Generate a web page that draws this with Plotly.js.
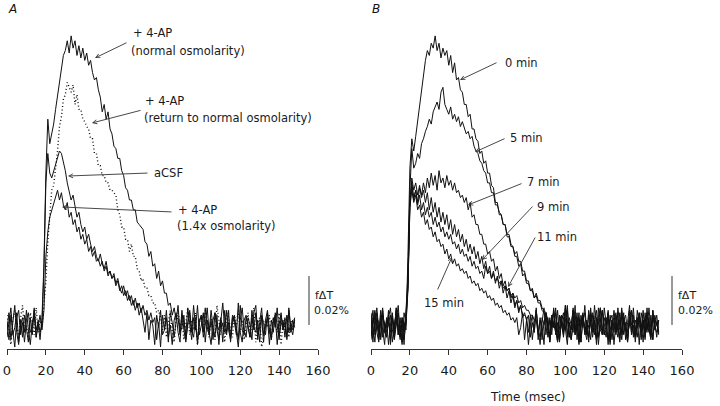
<!DOCTYPE html>
<html><head><meta charset="utf-8">
<script src="https://cdn.plot.ly/plotly-3.0.1.min.js"></script>
<style>html,body{margin:0;padding:0;background:#fff}#chart{width:720px;height:406px}</style>
</head><body><div id="chart"></div>
<script>
// Sampling interval (ms) of all traces
const dt = 1;
// fΔT values in units of 0.001 % (scale bar = 20 units = 0.02 %)
// Panel A
const aNormal = [-2,5,-6,1,8,-3,-8,2,-5,4,-1,-7,3,-4,6,-2,1,-6,3,
 25,62,84,74,78,82,88,94,100,106,110,112,116,111,118,113,116,110,114,109,113,108,111,106,108,103,100,
 101,96,93,87,90,84,87,80,78,73,72,68,68,63,61,56,55,51,51,47,47,42,41,40,39,34,33,28,30,24,25,19,22,16,18,13,13,8,9,4,7,2,
 3,-4,6,-2,-7,1,5,-3,8,-1,-6,2,4,-5,0,7,-3,-8,2,5,-2,-6,3,9,-1,-4,6,-7,1,4,-3,-9,2,7,-2,-5,3,0,-6,5,8,-4,-1,3,-7,2,6,-3,-5,1,4,-8,0,5,-2,3,-6,7,-1,-4,2];
const aReturn = [4,-3,-8,2,6,-1,-5,3,8,-2,0,-6,5,1,-4,7,-3,2,-1,
 8,18,34,46,55,57,64,71,81,85,92,94,99,97,95,98,90,94,88,88,84,83,81,80,76,76,70,70,65,65,61,61,58,58,55,55,54,53,47,45,40,40,35,35,30,33,28,28,23,22,18,19,15,15,12,12,9,9,5,6,3,
 -2,4,-5,1,6,-3,-7,2,5,-1,3,-6,0,7,-4,2,-2,5,-8,1,4,-3,6,-1,-5,3,0,-6,8,2,-4,1,-7,5,3,-2,-5,4,-1,6,-3,2,-6,0,5,-4,-2,7,-7,1,3,-9,-5,2,-1,4,-6,3,0,-3,5,-8,1,-2,4,-5,2,-1,3];
const aCSF = [-5,2,7,-4,-1,5,-7,0,3,-3,6,-2,-8,1,4,-5,2,-3,0,
 22,58,70,62,60,63,66,69,71,70,67,63,58,55,51,53,48,44,46,41,38,40,35,37,33,30,32,28,26,29,25,23,26,21,22,19,21,17,19,15,13,16,12,14,10,12,8,11,7,9,5,8,4,6,2,5,1,
 3,-6,1,-9,4,-2,6,-5,0,-8,2,5,-3,-7,4,1,-4,7,-1,-6,3,-2,8,-4,0,5,-7,2,-3,6,-1,-5,4,-8,2,0,-3,6,-2,-6,3,1,-4,9,-3,-7,2,4,-1,-5,3,-2,5,-6,1,7,-4,-1,3,-8,2,-3,5,0,-6,4,-2,1,-5,6,-3,2,-1];
const aHyper = [1,-6,4,-2,-9,3,6,-4,1,-7,2,5,-3,-1,7,-5,0,4,-2,
 6,28,38,44,47,50,52,55,51,54,49,47,50,44,46,41,43,38,40,35,37,33,35,30,32,28,30,26,27,24,26,22,24,20,22,19,20,16,18,14,16,12,14,10,12,8,10,6,9,4,7,2,
 -3,5,-6,2,0,-8,4,-1,6,-4,-2,3,-7,5,1,-5,2,8,-3,-1,4,-6,0,6,-2,-5,3,-8,1,4,-3,7,-1,-4,2,-6,5,0,-2,3,-7,6,-3,1,-5,4,2,-1,-6,8,-2,-4,3,0,-5,6,-1,-3,2,-7,4,1,-4,5,-2,-6,3,-1,7,-4,0,2,-5,4,-3,1,-2,3];
// Panel B (minutes after wash)
const b0 = [3,-5,1,7,-2,-6,4,0,-3,6,-8,2,-1,5,-4,3,-7,1,-2,
 28,64,76,71,77,83,90,96,103,108,112,110,115,113,118,112,115,109,113,110,
 112,106,110,103,107,100,101,96,95,90,90,85,86,80,80,76,75,70,71,66,67,62,62,57,56,50,50,45,45,41,41,36,36,32,32,28,28,24,25,20,21,17,17,14,14,11,13,10,10,7,6,5,
 2,-5,4,-1,7,-3,-6,1,5,-2,-8,3,0,6,-4,2,-7,4,-1,8,-3,-5,2,5,-2,-6,1,7,-4,0,3,-8,4,-2,6,-1,-5,2,-3,5,-6,1,8,-4,0,-7,3,2,-2,6,-5,1,-3,4,-6,2,0,-1];
const b5 = [-4,2,6,-3,-7,1,4,-1,-5,3,7,-2,-6,0,5,-3,2,-8,4,
 20,55,72,64,66,70,68,74,76,79,81,84,82,87,89,91,88,95,97,90,88,86,89,84,86,83,85,81,83,80,78,79,76,77,73,71,70,67,66,63,
 62,58,58,54,54,49,49,46,45,41,41,37,37,33,32,29,30,26,26,22,22,18,18,14,15,11,12,9,9,6,5,4,
 1,-6,3,5,-2,-7,4,0,-4,6,2,-5,-1,7,-3,3,-8,1,5,-2,-6,4,0,-3,8,-1,-5,2,6,-4,-2,5,-7,1,3,-4,7,-1,-6,2,4,-3,0,6,-5,-2,3,-8,5,1,-4,7,-2,-6,3,0,4,-3];
const b7 = [5,-2,-7,3,1,-5,6,-3,2,-8,0,4,-4,7,-1,-6,3,-2,5,
 15,48,58,52,55,50,56,53,58,54,60,56,62,57,61,55,63,58,60,56,61,57,59,55,58,54,55,52,53,50,
 52,47,50,44,45,41,41,37,37,33,33,29,30,26,27,22,24,19,21,16,18,14,15,11,13,8,10,6,8,4,4,3,
 -3,4,-6,1,6,-2,-8,3,0,5,-5,2,-1,7,-4,1,-7,4,3,-2,6,-5,0,-3,8,-6,2,-1,4,-4,1,-7,5,-2,3,6,-5,0,-3,7,-1,-6,2,4,-8,1,-2,5,-4,3,0,-6,6,-3,2,-1,-5,4,1,-7,5,-2,3,-4,6,-1,-3,2];
const b9 = [-1,6,-4,2,-6,4,-2,-8,3,1,-3,5,-5,2,8,-4,0,-6,2,
 18,50,60,55,58,53,57,52,55,50,54,47,52,46,50,44,48,42,46,41,45,39,43,37,41,36,39,34,37,32,35,30,33,29,32,27,30,25,28,23,26,21,24,19,22,17,20,15,18,13,16,11,14,9,12,7,10,5,8,3,5,2,
 4,-5,1,-3,7,-6,2,0,-8,5,-2,3,-4,6,-1,-7,4,2,-5,1,8,-3,-6,0,4,-2,5,-7,3,-1,-4,6,1,-5,2,-8,3,7,-2,-4,0,5,-6,2,-3,4,-1,-7,6,1,-2,-5,3,0,7,-4,-1,5,-6,2,-3,4,0,-5,6,-2,1,-4];
const b11 = [2,-7,5,0,-3,6,-5,1,-1,4,-6,3,-2,7,-4,0,-8,5,1,
 16,52,57,51,55,49,53,47,50,45,48,44,46,41,44,40,42,38,40,36,38,35,37,33,34,31,33,29,31,28,29,26,28,24,26,23,24,21,22,19,
 24,21,22,19,21,18,19,17,18,15,16,14,15,12,13,11,12,9,10,7,8,6,6,4,4,2,2,
 -4,3,-6,1,5,-2,-7,4,0,-3,6,-5,2,-1,8,-4,1,-6,3,-2,5,-7,0,4,-3,2,-5,7,-1,-4,3,-8,1,6,-2,-5,4,0,-6,2,5,-3,-1,7,-4,1,-7,3,-2,4,-5,6,0,-3,2,-6,5,-1,-4,3,1,-5,2];
const b15 = [-6,3,-1,5,-4,2,7,-3,-5,1,4,-7,0,6,-2,-5,3,-3,0,
 14,48,55,50,53,47,49,44,46,41,43,39,40,36,38,34,35,32,33,29,31,27,29,25,27,24,25,22,23,21,22,19,20,17,18,16,17,14,15,13,14,11,12,10,11,8,9,7,8,5,6,4,5,2,3,1,
 3,-4,-1,5,-6,2,-8,0,4,-3,6,-2,-5,1,7,-4,3,-7,2,-1,5,-6,0,4,-3,8,-5,1,-2,6,-4,-1,3,-7,2,5,-3,0,-6,4,1,-5,7,-2,-4,3,-1,6,-8,2,0,-3,5,-6,4,1,-2,-7,3,6,-4,2,-1,5,-5,0,3,-3,7,-2,-6,4,1,-3];
// Axis ticks
const tickVals = [0,20,40,60,80,100,120,140,160];
const scaleBar = 20; // 0.02 %

function timeFor(arr){ return arr.map((_, i) => i * dt); }
function tr(arr, xa, dashed){
  return {x: timeFor(arr), y: arr, xaxis: xa, yaxis: xa === 'x' ? 'y' : 'y2', type: 'scatter', mode: 'lines',
    line: {color: '#111', width: dashed ? 1.4 : 1, dash: dashed ? '1px,2.5px' : 'solid'}, hoverinfo: 'skip'};
}
const data = [
  tr(aCSF,'x',false), tr(aHyper,'x',false), tr(aReturn,'x',true), tr(aNormal,'x',false),
  tr(b15,'x2',false), tr(b11,'x2',false), tr(b9,'x2',false), tr(b7,'x2',false), tr(b5,'x2',false), tr(b0,'x2',false)
];

// pixel -> paper helpers
const L = 7, W = 675, B = 349, H = 319;
const PX = p => (p - L) / W, PY = p => (B - p) / H;
const FONT = 'DejaVu Sans';
const anns = [];
function txt(s, px, py, size, opts){
  anns.push(Object.assign({xref:'paper', yref:'paper', x: PX(px), y: PY(py), text: s, showarrow: false,
    xanchor: 'left', yanchor: 'middle', font: {family: FONT, size: size || 11.5, color: '#1a1a1a'}}, opts || {}));
}
function arrow(tx, ty, hx, hy, head){
  anns.push({xref:'paper', yref:'paper', x: PX(hx), y: PY(hy), ax: tx - hx, ay: ty - hy, axref: 'pixel', ayref: 'pixel',
    text: '', showarrow: true, arrowhead: head === undefined ? 5 : head, arrowsize: 0.9, arrowwidth: 0.9, arrowcolor: '#333', standoff: 0});
}
// Panel A labels
txt('+ 4-AP', 131, 33); txt('(normal osmolarity)', 129, 51); arrow(128, 42, 95, 58);
txt('+ 4-AP', 143, 101); txt('(return to normal osmolarity)', 142, 118); arrow(142, 110, 92, 123);
txt('aCSF', 152, 173); arrow(149, 173, 68, 176);
txt('+ 4-AP', 176, 210); txt('(1.4x osmolarity)', 175, 226); arrow(173, 212, 62, 207);
// Panel B labels
txt('0 min', 503, 63); arrow(498, 62, 460, 80);
txt('5 min', 508, 138); arrow(506, 138, 475, 152);
txt('7 min', 525, 182); arrow(523, 183, 468, 205);
txt('9 min', 535, 207); arrow(534, 205, 482, 260);
txt('11 min', 535, 237); arrow(536, 236, 508, 287);
txt('15 min', 422, 303); arrow(437, 291, 452, 257);
// Panel letters
txt('A', 6, 9, 12, {font:{family: FONT, size: 12, color:'#111', style:'italic'}});
txt('B', 370, 9, 12, {font:{family: FONT, size: 12, color:'#111', style:'italic'}});
// Scale bar labels
txt('f\u0394T', 313, 295, 11); txt('0.02%', 312, 310, 11);
txt('f\u0394T', 676, 295, 11); txt('0.02%', 676, 310, 11);
// x title
anns.push({xref:'paper', yref:'paper', x: PX(527), y: PY(397), text: 'Time (msec)', showarrow: false,
  xanchor:'center', yanchor:'middle', font:{family: FONT, size: 12, color:'#1a1a1a'}});

// scale bars drawn in data units of each panel
const shapes = [
  {type:'line', xref:'paper', yref:'y', x0: PX(309), x1: PX(309), y0: 0, y1: scaleBar, line:{color:'#333', width:1}},
  {type:'line', xref:'paper', yref:'y2', x0: PX(672), x1: PX(672), y0: 0, y1: scaleBar, line:{color:'#333', width:1}}
];

const xax = {range:[0,160], tickvals: tickVals, ticks:'outside', ticklen:5, tickwidth:1, tickcolor:'#333',
  showline:true, linecolor:'#333', linewidth:1, showgrid:false, zeroline:false, fixedrange:true,
  ticklabelstandoff: 4,
  tickfont:{family: FONT, size: 13, color:'#1a1a1a'}};
const yax = {range:[-9.8,120.4], visible:false, fixedrange:true};
const layout = {
  width:720, height:406, paper_bgcolor:'#fff', plot_bgcolor:'#fff', showlegend:false,
  margin:{l:7, r:38, t:30, b:57},
  xaxis: Object.assign({}, xax, {domain:[0, (318-7)/675], anchor:'y'}),
  xaxis2: Object.assign({}, xax, {domain:[(371-7)/675, 1], anchor:'y2'}),
  yaxis: Object.assign({}, yax, {anchor:'x'}),
  yaxis2: Object.assign({}, yax, {anchor:'x2'}),
  annotations: anns, shapes: shapes
};
Plotly.newPlot('chart', data, layout, {staticPlot:true, displayModeBar:false});
</script></body></html>
